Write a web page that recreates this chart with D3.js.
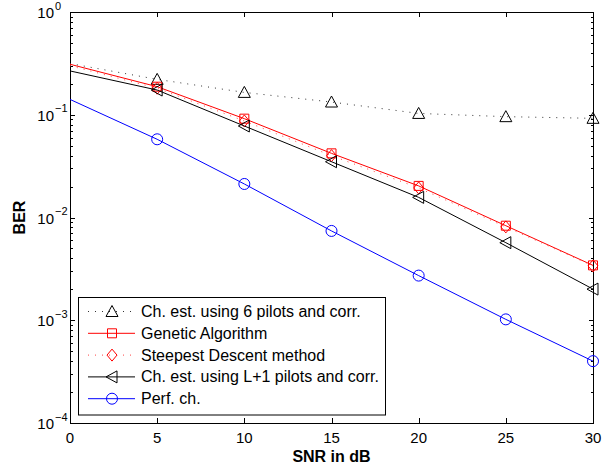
<!DOCTYPE html>
<html><head><meta charset="utf-8">
<script src="https://cdn.jsdelivr.net/npm/d3@7"></script>
<style>body{margin:0;background:#fff}svg{display:block}text{font-family:Arial,"Liberation Sans",Helvetica,sans-serif}</style>
</head><body><svg id="c" width="615" height="468"></svg>
<script>
const snr = [0, 5, 10, 15, 20, 25, 30];
const markerSnr = [5, 10, 15, 20, 25, 30];
const ber6pilots = [0.315, 0.221, 0.165, 0.133, 0.103, 0.0958, 0.0923];
const berGA = [0.31, 0.1875, 0.0916, 0.0421, 0.0203, 0.00832, 0.00342];
const berSD = [0.30, 0.181, 0.087, 0.0400, 0.0194, 0.0081, 0.00338];
const berL1 = [0.267, 0.174, 0.0777, 0.0349, 0.0157, 0.00569, 0.00201];
const berPerf = [0.141, 0.0577, 0.0212, 0.0074, 0.00272, 0.00102, 0.0004];
const seriesNames = ["Ch. est. using 6 pilots and corr.", "Genetic Algorithm", "Steepest Descent method", "Ch. est. using L+1 pilots and corr.", "Perf. ch."];
const xTicks = [0, 5, 10, 15, 20, 25, 30];
const yMajor = [1e-4, 1e-3, 1e-2, 1e-1, 1];
const yExp = ["\u22124", "\u22123", "\u22122", "\u22121", "0"];

const series = [
  {name: seriesNames[0], vals: ber6pilots, color: "#000", lineColor: "#333", dash: "1,6", marker: "tri-up"},
  {name: seriesNames[1], vals: berGA, color: "#f00", lineColor: "#f00", dash: null, marker: "square"},
  {name: seriesNames[2], vals: berSD, color: "#f00", lineColor: "#f44", dash: "1,6", marker: "diamond"},
  {name: seriesNames[3], vals: berL1, color: "#000", lineColor: "#000", dash: null, marker: "tri-left"},
  {name: seriesNames[4], vals: berPerf, color: "#00f", lineColor: "#00f", dash: null, marker: "circle"}
];

const L = 70, R = 593, T = 12, B = 423;
const svg = d3.select("#c");
const x = d3.scaleLinear().domain([0, 30]).range([L, R]);
const y = d3.scaleLog().domain([1e-4, 1]).range([B, T]);

svg.append("rect").attr("x", L + 0.5).attr("y", T + 0.5).attr("width", R - L).attr("height", B - T)
  .attr("fill", "none").attr("stroke", "#000").attr("stroke-width", 1);

const allY = y.ticks();
const isMajor = v => Math.abs(Math.log10(v) - Math.round(Math.log10(v))) < 1e-9;

const gy = svg.append("g");
allY.forEach(v => {
  const yy = Math.round(y(v)) + 0.5;
  const len = isMajor(v) ? 5 : 3;
  gy.append("line").attr("x1", L).attr("x2", L + len).attr("y1", yy).attr("y2", yy).attr("stroke", "#000");
  gy.append("line").attr("x1", R + 1).attr("x2", R + 1 - len).attr("y1", yy).attr("y2", yy).attr("stroke", "#000");
});
yMajor.forEach((v, i) => {
  gy.append("text").attr("x", 54).attr("y", y(v) + 6).attr("text-anchor", "end")
    .attr("font-size", 15).attr("fill", "#000").text("10");
  gy.append("text").attr("x", 55).attr("y", y(v) - 2.5).attr("font-size", 11).attr("fill", "#000").text(yExp[i]);
});

const gx = svg.append("g");
xTicks.forEach(v => {
  const xx = Math.round(x(v)) + 0.5;
  gx.append("line").attr("x1", xx).attr("x2", xx).attr("y1", B).attr("y2", B - 5).attr("stroke", "#000");
  gx.append("line").attr("x1", xx).attr("x2", xx).attr("y1", T).attr("y2", T + 5).attr("stroke", "#000");
  gx.append("text").attr("x", x(v)).attr("y", 443).attr("text-anchor", "middle")
    .attr("font-size", 15).attr("fill", "#000").text(v);
});

svg.append("text").attr("x", (L + R) / 2).attr("y", 462).attr("text-anchor", "middle")
  .attr("font-size", 16).attr("font-weight", "bold").text("SNR in dB");
svg.append("text").attr("transform", `translate(25,${(T + B) / 2}) rotate(-90)`).attr("text-anchor", "middle")
  .attr("font-size", 16).attr("font-weight", "bold").text("BER");

function drawMarker(g, type, cx, cy, color) {
  const s = g.append("path").attr("fill", "none").attr("stroke", color).attr("stroke-width", 1);
  let d;
  if (type === "tri-up") d = `M${cx},${cy - 6}L${cx + 6},${cy + 5}L${cx - 6},${cy + 5}Z`;
  else if (type === "tri-left") d = `M${cx - 6},${cy}L${cx + 5},${cy - 6}L${cx + 5},${cy + 6}Z`;
  else if (type === "square") d = `M${cx - 4.5},${cy - 4.5}h9v9h-9Z`;
  else if (type === "diamond") d = `M${cx},${cy - 6}L${cx + 5},${cy}L${cx},${cy + 6}L${cx - 5},${cy}Z`;
  else d = `M${cx - 5.5},${cy}a5.5,5.5 0 1,0 11,0a5.5,5.5 0 1,0 -11,0`;
  s.attr("d", d);
}

const line = d3.line().x((d, i) => x(snr[i])).y(d => y(d));
const gp = svg.append("g");
series.forEach(s => {
  const p = gp.append("path").attr("d", line(s.vals)).attr("fill", "none")
    .attr("stroke", s.lineColor).attr("stroke-width", 1);
  if (s.dash) p.attr("stroke-dasharray", s.dash);
  s.vals.forEach((v, i) => {
    if (markerSnr.includes(snr[i])) drawMarker(gp, s.marker, x(snr[i]), y(v), s.color);
  });
});

const lg = svg.append("g");
lg.append("rect").attr("x", 78.5).attr("y", 297.5).attr("width", 307).attr("height", 117.5)
  .attr("fill", "#fff").attr("stroke", "#000");
series.forEach((s, i) => {
  const yy = 311.5 + i * 21.8;
  const l = lg.append("line").attr("x1", 88).attr("x2", 135).attr("y1", yy).attr("y2", yy)
    .attr("stroke", s.lineColor).attr("stroke-width", 1);
  if (s.dash) l.attr("stroke-dasharray", "1,6");
  drawMarker(lg, s.marker, 112, yy, s.color);
  lg.append("text").attr("x", 141).attr("y", yy + 5.5).attr("font-size", 16).text(s.name);
});
</script></body></html>
